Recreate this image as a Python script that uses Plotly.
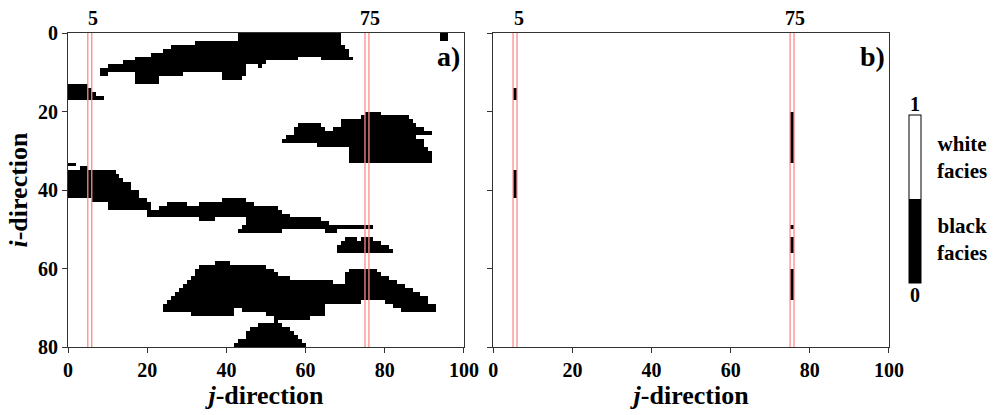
import numpy as np
import plotly.graph_objects as go

# ---------------- data ----------------
N_ROWS, N_COLS = 80, 100          # i-direction cells, j-direction cells
SECTION_COLS = [5, 75]            # the two sampled columns shown in panel b)
X_TICKS = [0, 20, 40, 60, 80, 100]
Y_TICKS = [0, 20, 40, 60, 80]
BLACK_VALUE, WHITE_VALUE = 0, 1   # facies codes

# black-facies runs of the reference image: row, first column, last column (inclusive)
run_row = [0, 0, 1, 1, 2, 3, 4, 5, 6, 6, 7, 8, 8, 9, 10, 10, 10, 11, 11, 12,
           13, 14, 15, 16,
           20, 21, 22, 23, 23, 24, 24, 25, 26, 27, 28, 29, 30, 31, 32,
           33, 34, 35, 36, 37, 38, 39, 40, 41, 42, 42, 43, 43, 43, 44, 44,
           45, 46, 47, 47, 48, 49, 50, 50,
           52, 52, 53, 54, 55,
           58, 59, 60, 60, 61, 61, 62, 62, 63, 63, 64, 65, 66, 67, 68, 68,
           69, 69, 70, 70, 70, 71, 71, 72,
           73, 74, 75, 76, 77, 78, 79]
run_start = [43, 94, 43, 94, 32, 26, 24, 21, 17, 64, 14, 10, 48, 8, 8, 17, 39, 17, 39, 17,
             0, 0, 0, 0,
             75, 74, 69, 58, 69, 57, 67, 57, 55, 54, 63, 71, 71, 71, 71,
             0, 3, 0, 0, 0, 0, 0, 0, 0, 6, 39, 10, 25, 33, 10, 23,
             20, 20, 33, 45, 45, 44, 43, 65,
             70, 74, 69, 68, 68,
             37, 33, 32, 71, 32, 70, 31, 70, 30, 70, 29, 28, 27, 26, 25, 80,
             24, 82, 24, 44, 84, 31, 50, 52,
             52, 48, 46, 45, 45, 43, 42]
run_end = [68, 95, 68, 95, 68, 69, 70, 70, 57, 71, 49, 44, 48, 44, 9, 28, 44, 22, 43, 22,
           4, 5, 6, 8,
           78, 85, 86, 63, 87, 64, 89, 91, 87, 89, 89, 90, 91, 91, 91,
           1, 4, 11, 12, 13, 15, 15, 17, 17, 19, 44, 20, 29, 46, 20, 52,
           53, 55, 36, 63, 65, 76, 53, 67,
           72, 76, 78, 80, 81,
           40, 49, 51, 77, 52, 78, 55, 80, 66, 82, 84, 86, 88, 90, 73, 90,
           64, 92, 41, 64, 92, 41, 64, 60,
           52, 53, 55, 56, 57, 58, 59]

# ---------------- build grids ----------------
facies = np.full((N_ROWS, N_COLS), WHITE_VALUE, dtype=float)
for r, a, b in zip(run_row, run_start, run_end):
    facies[r, a:b + 1] = BLACK_VALUE

sections = np.full((N_ROWS, N_COLS), WHITE_VALUE, dtype=float)
for c in SECTION_COLS:
    sections[:, c] = facies[:, c]

xc = np.arange(N_COLS) + 0.5
yc = np.arange(N_ROWS) + 0.5

FONT = "Liberation Serif"
AX = "#333333"
RED = "#ff8a8a"
cscale = [[0, "black"], [0.5, "black"], [0.5, "white"], [1, "white"]]

fig = go.Figure()
fig.add_trace(go.Heatmap(z=facies, x=xc, y=yc, zmin=0, zmax=1, colorscale=cscale,
                         zsmooth=False, showscale=False, xaxis="x", yaxis="y",
                         hoverinfo="skip"))
fig.add_trace(go.Heatmap(z=sections, x=xc, y=yc, zmin=0, zmax=1, colorscale=cscale,
                         zsmooth=False, xaxis="x2", yaxis="y2", hoverinfo="skip",
                         showscale=True,
                         colorbar=dict(x=1.0247, xanchor="left", xpad=0, ypad=0,
                                       y=0.47, yanchor="middle", len=168, lenmode="pixels",
                                       thickness=12, outlinewidth=1, outlinecolor="black",
                                       showticklabels=False, ticks="")))

tickfont = dict(family=FONT, size=20, color="black", weight="bold")
titlefont = dict(family=FONT, size=26, color="black", weight="bold")

def xaxis_cfg(domain, anchor):
    return dict(domain=domain, anchor=anchor, range=[0, N_COLS], autorange=False,
                tickvals=X_TICKS, ticks="outside", ticklen=5, tickcolor=AX,
                showline=True, linecolor=AX, linewidth=1, mirror=True,
                showgrid=False, zeroline=False, tickfont=tickfont,
                title=dict(text="<i>j</i>-direction", font=titlefont, standoff=4))

def yaxis_cfg(anchor, labels):
    d = dict(anchor=anchor, range=[N_ROWS, 0], autorange=False, domain=[0, 1],
             tickvals=Y_TICKS, ticks="outside", ticklen=5, tickcolor=AX,
             showline=True, linecolor=AX, linewidth=1, mirror=True,
             showgrid=False, zeroline=False, tickfont=tickfont,
             showticklabels=labels)
    if labels:
        d["title"] = dict(text="<i>i</i>-direction", font=titlefont, standoff=2)
    return d

fig.update_layout(
    width=1003, height=415,
    margin=dict(l=68, r=114, t=33, b=63),
    paper_bgcolor="white", plot_bgcolor="white",
    xaxis=xaxis_cfg([0, 0.4823], "y"),
    yaxis=yaxis_cfg("x", True),
    xaxis2=xaxis_cfg([0.518, 1.0], "y2"),
    yaxis2=yaxis_cfg("x2", False),
    showlegend=False,
)

shapes = []
annotations = []
for xr, dref, tag in [("x", "x domain", "a)"), ("x2", "x2 domain", "b)")]:
    for c in SECTION_COLS:
        for edge in (c, c + 1):
            shapes.append(dict(type="line", xref=xr, yref="paper", x0=edge, x1=edge,
                               y0=0, y1=1, line=dict(color=RED, width=1.3), layer="above"))
    annotations.append(dict(xref=xr, yref="paper", x=SECTION_COLS[0] + 1.4, y=1,
                            yanchor="bottom", yshift=2, showarrow=False,
                            text=str(SECTION_COLS[0]),
                            font=dict(family=FONT, size=20, color="black", weight="bold")))
    annotations.append(dict(xref=xr, yref="paper", x=SECTION_COLS[1] + 1.3, y=1,
                            yanchor="bottom", yshift=2, showarrow=False,
                            text=str(SECTION_COLS[1]),
                            font=dict(family=FONT, size=20, color="black", weight="bold")))
    annotations.append(dict(xref=dref, yref="paper", x=1, y=1, xanchor="right",
                            yanchor="top", xshift=-2, yshift=-6, showarrow=False, text=tag,
                            font=dict(family=FONT, size=28, color="black", weight="bold")))

cb_font = dict(family=FONT, size=20, color="black", weight="bold")
lab_font = dict(family=FONT, size=21, color="black", weight="bold")
annotations += [
    dict(xref="paper", yref="paper", x=1.032, y=0.733, yanchor="bottom", xanchor="center",
         showarrow=False, text=str(WHITE_VALUE), font=cb_font),
    dict(xref="paper", yref="paper", x=1.032, y=0.207, yanchor="top", xanchor="center",
         showarrow=False, text=str(BLACK_VALUE), font=cb_font),
    dict(xref="paper", yref="paper", x=1.089, y=0.605, xanchor="center", yanchor="middle",
         showarrow=False, text="white<br>facies", font=lab_font),
    dict(xref="paper", yref="paper", x=1.089, y=0.343, xanchor="center", yanchor="middle",
         showarrow=False, text="black<br>facies", font=lab_font),
]
fig.update_layout(shapes=shapes, annotations=annotations)

fig.write_html("out.html")
